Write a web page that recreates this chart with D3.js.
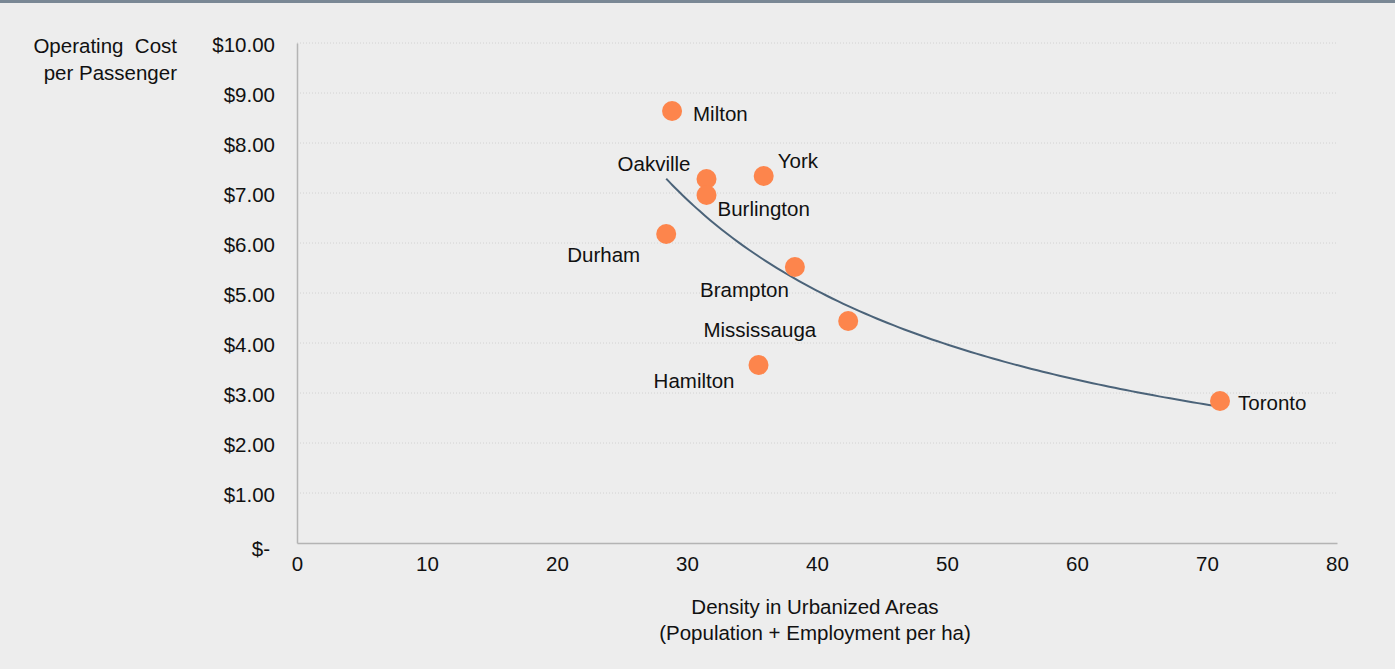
<!DOCTYPE html>
<html>
<head>
<meta charset="utf-8">
<script src="https://cdn.jsdelivr.net/npm/d3@7"></script>
<style>
  body { margin: 0; background: #ededed; }
  text { font-family: "Liberation Sans", Arial, sans-serif; fill: #111; }
</style>
</head>
<body>
<div id="chart"></div>
<script>
// data
var cities  = ["Milton", "Oakville", "Burlington", "York", "Durham", "Brampton", "Mississauga", "Hamilton", "Toronto"]
var density = [28.85, 31.5, 31.5, 35.9, 28.4, 38.3, 42.4, 35.5, 71.0]
var cost    = [8.64, 7.28, 6.96, 7.34, 6.18, 5.52, 4.44, 3.56, 2.84]
var xTicks  = [0, 10, 20, 30, 40, 50, 60, 70, 80]
var yTicks  = [0, 1, 2, 3, 4, 5, 6, 7, 8, 9, 10]

// where each label sits relative to its dot
var labelPlace = {
  Milton:      {dx: 21,  dy: 10,  anchor: "start"},
  Oakville:    {dx: -16, dy: -8,  anchor: "end"},
  Burlington:  {dx: 11,  dy: 21,  anchor: "start"},
  York:        {dx: 14,  dy: -8,  anchor: "start"},
  Durham:      {dx: -26, dy: 28,  anchor: "end"},
  Brampton:    {dx: -6,  dy: 30,  anchor: "end"},
  Mississauga: {dx: -32, dy: 16,  anchor: "end"},
  Hamilton:    {dx: -24, dy: 23,  anchor: "end"},
  Toronto:     {dx: 18,  dy: 9,   anchor: "start"}
}

var width = 1395
var height = 669
var mLeft = 297, mRight = 1337, mTop = 43, mBottom = 543
var fontSize = "20.5px"

var data = cities.map((c, i) => ({name: c, x: density[i], y: cost[i]}))

var svg = d3.select("#chart")
  .append("svg")
    .attr("width", width)
    .attr("height", height)

svg.append("rect")
  .attr("width", width).attr("height", height)
  .attr("fill", "#ededed")
svg.append("rect")
  .attr("width", width).attr("height", 3)
  .attr("fill", "#7a8895")

var x = d3.scaleLinear().domain([0, 80]).range([mLeft, mRight])
var y = d3.scaleLinear().domain([0, 10]).range([mBottom, mTop])

// gridlines
svg.append("g")
  .selectAll("line")
  .data(yTicks.filter(d => d > 0))
  .enter().append("line")
    .attr("x1", mLeft).attr("x2", mRight)
    .attr("y1", d => y(d)).attr("y2", d => y(d))
    .attr("stroke", "#d2d2d2")
    .attr("stroke-width", 1)
    .attr("stroke-dasharray", "1,2")

// axes
var xAxis = svg.append("g")
  .attr("transform", "translate(0," + mBottom + ")")
  .call(d3.axisBottom(x).tickValues(xTicks).tickSize(0).tickPadding(13).tickFormat(d3.format("d")))
var yAxis = svg.append("g")
  .attr("transform", "translate(" + mLeft + ",0)")
  .call(d3.axisLeft(y).tickValues(yTicks).tickSize(0).tickPadding(22)
    .tickFormat(d => d === 0 ? "$-" : "$" + d3.format(".2f")(d)))

;[xAxis, yAxis].forEach(a => {
  a.select(".domain").attr("stroke", "#b4b4b4").attr("stroke-width", 1.5)
  a.selectAll("text").style("font-size", fontSize).attr("fill", "#111")
    .style("font-family", "'Liberation Sans', Arial, sans-serif")
})
xAxis.selectAll("text").attr("dy", "0.71em")
yAxis.selectAll("text").attr("dy", d => d === 0 ? "0.6em" : "0.42em")
  .attr("dx", d => d === 0 ? -5 : 0)

// power trendline fitted to the points (like the spreadsheet did)
var lx = d3.mean(data, d => Math.log(d.x))
var ly = d3.mean(data, d => Math.log(d.y))
var b = d3.sum(data, d => (Math.log(d.x) - lx) * (Math.log(d.y) - ly)) /
        d3.sum(data, d => (Math.log(d.x) - lx) ** 2)
var a = Math.exp(ly - b * lx)
var xmin = d3.min(data, d => d.x), xmax = d3.max(data, d => d.x)
var trend = d3.range(0, 101).map(i => {
  var xv = xmin + (xmax - xmin) * i / 100
  return [xv, a * Math.pow(xv, b)]
})

svg.append("path")
  .datum(trend)
  .attr("fill", "none")
  .attr("stroke", "#4b6379")
  .attr("stroke-width", 2)
  .attr("d", d3.line().x(d => x(d[0])).y(d => y(d[1])).curve(d3.curveBasis))

// points
svg.append("g")
  .selectAll("circle")
  .data(data)
  .enter().append("circle")
    .attr("cx", d => x(d.x))
    .attr("cy", d => y(d.y))
    .attr("r", 10)
    .attr("fill", "#fd854c")

svg.append("g")
  .selectAll("text")
  .data(data)
  .enter().append("text")
    .attr("x", d => x(d.x) + labelPlace[d.name].dx)
    .attr("y", d => y(d.y) + labelPlace[d.name].dy)
    .attr("text-anchor", d => labelPlace[d.name].anchor)
    .style("font-size", fontSize)
    .text(d => d.name)

// axis titles
var yt = svg.append("text")
  .attr("text-anchor", "end")
  .style("font-size", fontSize)
  .style("white-space", "pre")
yt.append("tspan").attr("x", 177).attr("y", 53).text("Operating  Cost")
yt.append("tspan").attr("x", 177).attr("y", 80).text("per Passenger")

var xt = svg.append("text")
  .attr("text-anchor", "middle")
  .style("font-size", fontSize)
xt.append("tspan").attr("x", 815).attr("y", 614).text("Density in Urbanized Areas")
xt.append("tspan").attr("x", 815).attr("y", 640).text("(Population + Employment per ha)")
</script>
</body>
</html>
